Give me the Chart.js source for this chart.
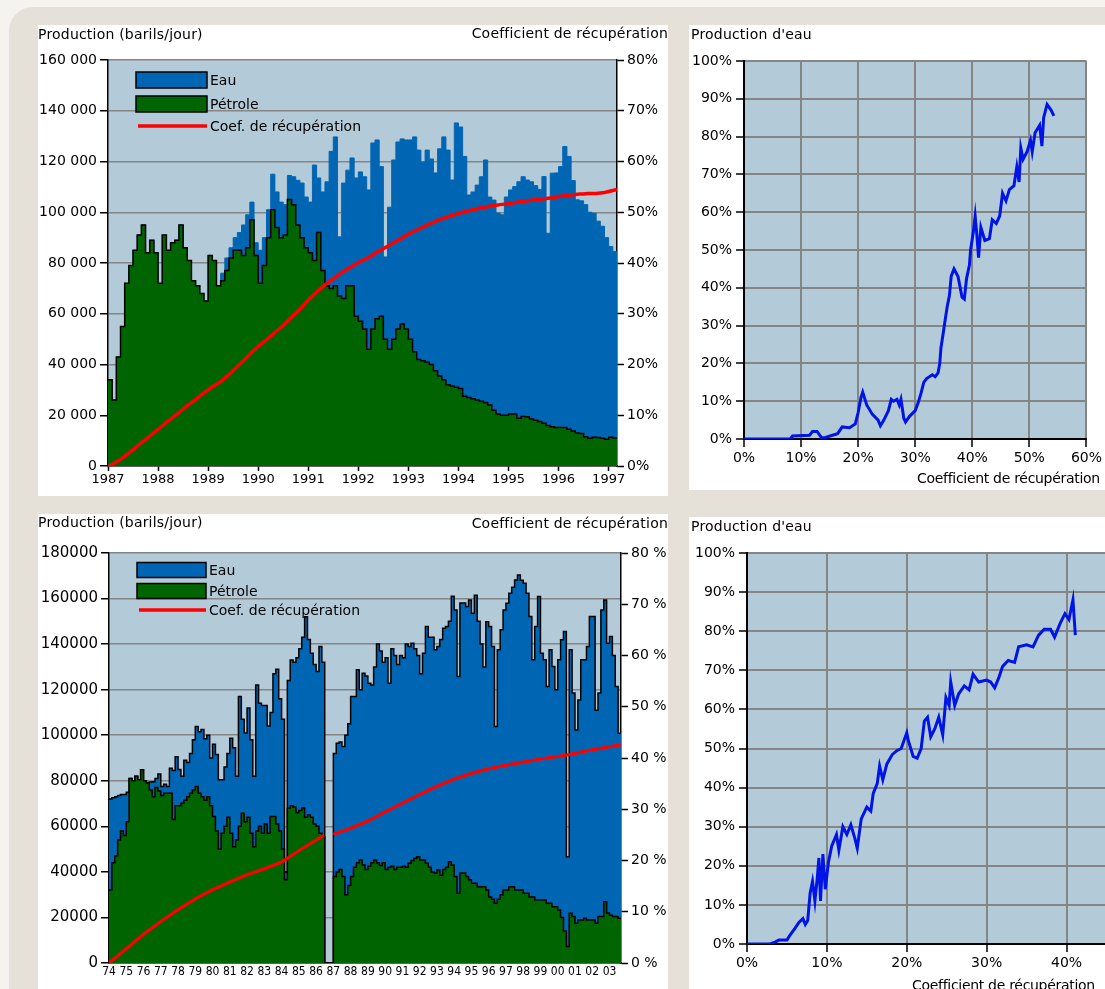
<!DOCTYPE html>
<html lang="fr">
<head>
<meta charset="utf-8">
<title>Production et coefficient de récupération</title>
<script src="https://cdn.jsdelivr.net/npm/chart.js@4.4.1/dist/chart.umd.min.js"></script>
<style>
  html, body { margin: 0; padding: 0; }
  body { position: relative; width: 1105px; height: 989px; overflow: hidden; background: #f5f3ef;
         font-family: 'DejaVu Sans', sans-serif; color: #000; }
  .frame { position: absolute; left: 9px; top: 7px; right: 0; bottom: 0; background: #e5e1d9; border-top-left-radius: 24px; }
  .panel { position: absolute; background: #fff; }
  canvas { position: absolute; }
  .t { position: absolute; font-size: 14px; line-height: 16px; white-space: nowrap; letter-spacing: 0.2px; }
</style>
</head>
<body>
<div class="frame"></div>
<div class="panel" style="left:38px;top:25px;width:630px;height:471px"></div>
<div class="panel" style="left:689px;top:25px;width:416px;height:465px"></div>
<div class="panel" style="left:38px;top:514px;width:630px;height:475px"></div>
<div class="panel" style="left:689px;top:517px;width:416px;height:472px"></div>

<canvas id="prodA" width="630" height="471" style="left:38px;top:25px"></canvas>
<canvas id="cutA" width="416" height="465" style="left:689px;top:25px"></canvas>
<canvas id="prodB" width="630" height="475" style="left:38px;top:514px"></canvas>
<canvas id="cutB" width="476" height="472" style="left:689px;top:517px"></canvas>

<div class="t" style="left:38px;top:26px">Production (barils/jour)</div>
<div class="t" style="left:368px;top:25px;width:300px;text-align:right">Coefficient de récupération</div>
<div class="t" style="left:691px;top:26px">Production d'eau</div>
<div class="t" style="left:917px;top:470px;letter-spacing:-0.3px">Coefficient de récupération</div>

<div class="t" style="left:38px;top:514px">Production (barils/jour)</div>
<div class="t" style="left:368px;top:515px;width:300px;text-align:right">Coefficient de récupération</div>
<div class="t" style="left:691px;top:518px">Production d'eau</div>
<div class="t" style="left:912px;top:977px;letter-spacing:-0.3px">Coefficient de récupération</div>

<script>
// ---------- Field A: monthly production 1987 - early 1997 ----------
const topStartYear = 1987;
const topPerYear = 12;
const topYearTicks = [1987, 1988, 1989, 1990, 1991, 1992, 1993, 1994, 1995, 1996, 1997];
const topProdTicks = [0, 20000, 40000, 60000, 80000, 100000, 120000, 140000, 160000];
const topRecTicks = [0, 10, 20, 30, 40, 50, 60, 70, 80];

// oil rate (bbl/d)
const topOil = [
  34000, 26000, 43000, 55000, 72000, 79000, 85000, 91000, 95000, 84000, 89000, 84000,
  72000, 91000, 85000, 88000, 89000, 95000, 86000, 81000, 73000, 71000, 68000, 65000,
  83000, 81000, 71000, 73000, 77000, 82000, 85000, 85000, 83000, 86000, 97000, 83000,
  72000, 79000, 90000, 101000, 94000, 90000, 91000, 105000, 103000, 95000, 90000, 86000,
  84000, 81000, 92000, 77000, 71000, 70000, 71000, 67000, 66000, 71000, 71000, 59000,
  57000, 54000, 46000, 54000, 58000, 59000, 50000, 46000, 50000, 54000, 56000, 54000,
  50000, 45000, 42000, 41500, 41000, 40000, 37500, 35500, 34000, 32000, 31500, 31000,
  30500, 27500, 27000, 26500, 26000, 25500, 25000, 24000, 22000, 20500, 20000, 20000,
  20500, 20500, 18800, 19500, 19400, 18500, 18000, 17500, 16800, 16000, 15500, 15200,
  15200, 15200, 14500, 13800, 13000, 12800, 11500, 10900, 11300, 11200, 10900, 10500,
  11300, 11000, 10900
];
// total liquid rate (oil + water, bbl/d)
const topLiquid = [
  34000, 26000, 43000, 55000, 72000, 79000, 85000, 91000, 95000, 84000, 89000, 84000,
  72000, 91000, 85000, 88000, 89000, 95000, 86000, 81000, 73000, 71000, 68000, 65000,
  83000, 81000, 71000, 76000, 82000, 86000, 90000, 92000, 95000, 99000, 104000, 88000,
  85000, 90000, 101000, 115000, 108000, 104000, 103000, 114500, 114000, 112600, 111500, 106000,
  104000, 118600, 113500, 108000, 112000, 124000, 129700, 90300, 111500, 116600, 121400, 113500,
  115900, 114000, 108800, 127300, 128500, 118000, 82400, 102000, 120600, 127700, 128900, 128500,
  128500, 129700, 124500, 119800, 124500, 121000, 115500, 125000, 129700, 124500, 112700, 135200,
  133600, 122000, 106800, 108000, 110700, 114000, 120600, 106000, 104800, 99700, 99000, 106000,
  108800, 110100, 112000, 114000, 112700, 112000, 110500, 109000, 114100, 91700, 115400, 115500,
  118000, 125900, 122000, 112500, 104900, 104500, 103000, 100000, 99600, 96500, 94500, 90000,
  86500, 84500, 83000
];
// recovery factor (%)
const topRecovery = [
  0.0, 0.3, 0.8, 1.3, 1.9, 2.6, 3.2, 3.9, 4.6, 5.2, 5.9, 6.6,
  7.2, 7.9, 8.6, 9.2, 9.9, 10.5, 11.2, 11.9, 12.5, 13.1, 13.8, 14.4,
  15.0, 15.6, 16.1, 16.6, 17.3, 18.0, 18.8, 19.6, 20.4, 21.2, 22.0, 22.8,
  23.6, 24.2, 24.9, 25.6, 26.3, 27.0, 27.7, 28.5, 29.3, 30.1, 30.9, 31.8,
  32.7, 33.5, 34.3, 35.0, 35.7, 36.3, 36.9, 37.5, 38.1, 38.6, 39.1, 39.6,
  40.1, 40.5, 40.9, 41.4, 41.9, 42.4, 42.8, 43.3, 43.8, 44.3, 44.7, 45.2,
  45.7, 46.1, 46.5, 46.9, 47.3, 47.7, 48.0, 48.4, 48.7, 49.0, 49.3, 49.5,
  49.8, 50.0, 50.2, 50.4, 50.6, 50.8, 51.0, 51.1, 51.3, 51.4, 51.5, 51.6,
  51.7, 51.8, 52.0, 52.1, 52.2, 52.3, 52.4, 52.5, 52.6, 52.7, 52.8, 52.9,
  53.1, 53.2, 53.3, 53.4, 53.5, 53.6, 53.6, 53.7, 53.7, 53.7, 53.8, 53.9,
  54.1, 54.3, 54.5
];

// ---------- Field B: bimonthly production 1974 - 2003 ----------
const botStartYear = 1974;
const botPerYear = 6;
const botYearTicks = [1974, 1975, 1976, 1977, 1978, 1979, 1980, 1981, 1982, 1983, 1984, 1985, 1986, 1987, 1988,
                      1989, 1990, 1991, 1992, 1993, 1994, 1995, 1996, 1997, 1998, 1999, 2000, 2001, 2002, 2003];
const botProdTicks = [0, 20000, 40000, 60000, 80000, 100000, 120000, 140000, 160000, 180000];
const botRecTicks = [0, 10, 20, 30, 40, 50, 60, 70, 80];

const botOil = [
  32000, 44000, 47000, 54000, 58000, 56000,
  62000, 81000, 80000, 82000, 80500, 84800,
  80000, 79000, 76000, 73000, 77000, 75500,
  73500, 74500, 74500, 74500, 63000, 69000,
  69000, 70100, 71500, 73000, 74500, 76000,
  77500, 74500, 73000, 71500, 73000, 69000,
  64300, 58000, 50000, 57000, 60000, 64000,
  57000, 51000, 54000, 60000, 65700, 62000,
  64000, 57000, 51000, 58000, 60000, 57000,
  61000, 57000, 64300, 64300, 61000, 58000,
  50000, 36500, 68000, 69000, 68500, 66000,
  67000, 68000, 64000, 65000, 64000, 61000,
  60000, 57000, 55500, 0, 0, 0,
  38000, 40000, 41000, 38000, 30000, 34000,
  38000, 42000, 44000, 45200, 43000, 41000,
  42500, 44000, 45200, 44000, 42800, 44000,
  41000, 42000, 42500, 41000, 42000, 42000,
  42500, 42000, 43800, 45000, 46000, 46700,
  45200, 45200, 43800, 42000, 40000, 39500,
  40800, 38500, 41000, 42000, 44500, 43000,
  38000, 30600, 39500, 39500, 38000, 36500,
  35000, 35000, 33500, 33500, 33500, 32000,
  29000, 28000, 26200, 28000, 30000, 32000,
  32000, 33500, 33500, 32000, 32000, 32000,
  30600, 30600, 29000, 29000, 27700, 27700,
  27700, 27700, 26200, 26200, 24700, 24700,
  23300, 20000, 14000, 7200, 21800, 20400,
  17500, 18900, 18900, 19600, 18900, 18900,
  18900, 17500, 20400, 20400, 26900, 22000,
  21000, 20400, 20400, 19600, 19600
];
const botLiquid = [
  72000, 72500, 73000, 73500, 74000, 74000,
  75000, 81000, 80000, 82000, 80500, 84800,
  80000, 79000, 79500, 79600, 81000, 83000,
  77500, 78500, 77500, 85500, 84500, 90600,
  85000, 82000, 89000, 88000, 92000, 98000,
  103800, 101500, 102500, 98500, 100000, 90000,
  96000, 91500, 80400, 80400, 86000, 92000,
  98700, 94500, 82000, 117000, 107000, 101000,
  112000, 98000, 82000, 122000, 114000, 113000,
  113000, 104000, 110000, 127000, 129000, 116000,
  107000, 40000, 124000, 133000, 132000, 134000,
  138000, 143000, 152000, 142000, 136000, 131000,
  128000, 139000, 132000, 0, 0, 0,
  92000, 96500, 97000, 95000, 100000, 105000,
  117000, 117000, 128700, 120000, 127200, 126000,
  122800, 122000, 130000, 140000, 137000, 132000,
  134000, 122800, 138000, 135000, 131000, 135000,
  134000, 140000, 139000, 140400, 138000, 135000,
  127000, 136000, 147700, 143000, 143000, 137500,
  139000, 142000, 147000, 147700, 150000, 161000,
  155000, 125800, 158000, 158000, 156500, 159400,
  153500, 161500, 150000, 140000, 130000, 149800,
  147700, 138900, 103800, 137500, 146300, 155000,
  157900, 162300, 165000, 168200, 170300, 168000,
  166700, 162300, 152100, 133100, 147700, 160900,
  136000, 133100, 121400, 137500, 130200, 120000,
  133100, 141900, 145500, 46700, 137500, 118500,
  102300, 115500, 133100, 133100, 138900, 152100,
  152100, 111000, 118500, 155000, 159400, 140400,
  143300, 135000, 121400, 100900, 110000
];
// recovery factor (%), with the 1986 shut-in left blank
const botRecovYears = [1974, 1975, 1976, 1977, 1978, 1979, 1980, 1981, 1982, 1983, 1984, 1985, 1986, 1986.45, 1986.7,
                       1987, 1988, 1989, 1990, 1991, 1992, 1993, 1994, 1995, 1996, 1997, 1998, 1999, 2000, 2001,
                       2002, 2003, 2003.667];
const botRecovery = [0, 2.8, 5.6, 8.1, 10.4, 12.5, 14.3, 15.8, 17.2, 18.4, 19.7, 21.9, 24.0, 24.9, null,
                     25.1, 26.3, 27.7, 29.5, 31.2, 32.9, 34.5, 35.9, 37.0, 37.9, 38.6, 39.2, 39.8, 40.3, 40.9,
                     41.6, 42.2, 42.6];

// ---------- Water cut vs recovery factor ----------
const pctTicks = [0, 10, 20, 30, 40, 50, 60, 70, 80, 90, 100];
const cutTopXTicks = [0, 10, 20, 30, 40, 50, 60];
const cutBotXTicks = [0, 10, 20, 30, 40, 50];

const cutTopRecovery = [
  0, 8.1, 8.5, 11.5, 12, 12.8, 13.6, 14, 15.5, 16.4,
  17.2, 18.5, 19.5, 20, 20.5, 20.8, 21.5, 22.5, 23.5, 23.9,
  24.5, 25.3, 25.8, 26.2, 26.8, 27.2, 27.5, 28, 28.3, 29,
  30, 30.5, 31, 31.5, 32, 33, 33.5, 34, 34.3, 34.5,
  34.9, 35.3, 35.6, 36, 36.3, 36.8, 37.5, 38.2, 38.6, 39,
  39.5, 39.7, 40.2, 40.5, 40.8, 41.1, 41.5, 42.2, 43, 43.5,
  44.2, 44.8, 45.3, 45.9, 46.5, 47.3, 47.8, 48.2, 48.5, 48.9,
  49.6, 50.2, 50.5, 51, 51.8, 52.2, 52.5, 53.1, 53.8, 54.3
];
const cutTopWater = [
  0, 0, 0.8, 1, 2, 2, 0.3, 0.3, 1, 1.4,
  3.2, 3, 4, 7, 11, 12.4, 9, 6.5, 5, 3.5,
  5, 7.5, 10.5, 10, 10.5, 9, 10.5, 5.5, 4.5, 6,
  7.5, 9.5, 12, 15, 16, 17, 16.5, 17.5, 20, 24,
  28, 32, 35, 38, 43, 45, 43, 37.5, 37, 42.5,
  46, 50, 55, 59, 54, 48, 56, 52.5, 53, 58,
  57, 59, 65, 63, 66, 67, 72, 68, 77, 74,
  76, 79, 76, 81, 83, 77.5, 85, 88.5, 87, 85.5
];
const cutBotRecovery = [
  0, 2.9, 3.0, 3.5, 4, 5, 5.3, 6, 6.5, 7,
  7.3, 7.6, 7.9, 8.2, 8.5, 8.8, 9.0, 9.2, 9.5, 9.8,
  10.2, 10.6, 11.2, 11.5, 12, 12.5, 13, 13.5, 13.8, 14.3,
  15, 15.5, 15.8, 16.3, 16.6, 17, 17.5, 18.2, 18.8, 19.3,
  20, 20.2, 20.8, 21.3, 21.8, 22.2, 22.6, 23, 23.5, 24,
  24.5, 24.9, 25.3, 25.5, 26, 26.5, 27.2, 27.8, 28.3, 29,
  30, 30.5, 31, 31.5, 32, 32.7, 33.5, 34, 35, 35.8,
  36.5, 37.2, 38, 38.5, 39.2, 39.8, 40.3, 40.8, 41.1
];
const cutBotWater = [
  0, 0, 0, 0.5, 1, 1, 2, 4, 5.5, 6.5,
  5, 6, 13, 16, 11, 17, 22, 11, 23, 14,
  21, 25, 28, 24, 30, 28, 30.5, 27, 24.5, 32,
  35, 34, 38.5, 41, 45.5, 42, 46, 48.5, 49.5, 50,
  54, 52, 48, 47.5, 50, 57, 58, 53, 55, 58,
  53.5, 63, 61, 67, 61, 64, 66, 65, 69, 67,
  67.5, 67, 65.5, 68, 71, 72.5, 72, 76, 76.5, 76,
  79, 80.5, 80.5, 78.5, 82, 84.5, 83, 88, 79
];

// ---------- styling ----------
const GREEN = '#006400', BLUE = '#0066b4', RED = '#ff0000', SKY = '#b3cbd8';
const GRID = '#858585', LINE_BLUE = '#0014e6';
const FAMILY = "'DejaVu Sans', sans-serif";
const NARROW = "'DejaVu Sans Condensed', 'Liberation Sans Narrow', 'DejaVu Sans', sans-serif";

Chart.defaults.font.family = FAMILY;
Chart.defaults.font.size = 14;
Chart.defaults.color = '#000';
Chart.defaults.animation = false;

const timeSeries = (start, perYear, values) => values.map((y, i) => ({ x: start + i / perYear, y }));
const pairs = (xs, ys) => ys.map((y, i) => ({ x: xs[i], y }));
const setTicks = list => scale => { scale.ticks = list.map(v => ({ value: v })); };
const setSize = px => scale => { if (scale.isHorizontal()) scale.height = px; else scale.width = px; };

// light blue plot background
const plotBg = {
  id: 'plotBg',
  beforeDraw(chart) {
    const { ctx, chartArea: a } = chart;
    ctx.save();
    ctx.fillStyle = SKY;
    ctx.fillRect(a.left, a.top, a.right - a.left, a.bottom - a.top);
    ctx.restore();
  }
};

// legend drawn inside the plot area, top-left corner
const boxLegend = {
  id: 'boxLegend',
  afterDatasetsDraw(chart, args, o) {
    const { ctx, chartArea: a } = chart;
    ctx.save();
    ctx.font = '14px ' + FAMILY;
    ctx.textBaseline = 'middle';
    o.order.forEach((di, k) => {
      const ds = chart.data.datasets[di];
      const x = a.left + o.x, cy = a.top + o.rows[k];
      if (ds.fill) {
        ctx.fillStyle = ds.backgroundColor;
        ctx.fillRect(x, cy - o.h / 2, o.w, o.h);
        ctx.strokeStyle = '#000';
        ctx.lineWidth = 1.5;
        ctx.strokeRect(x, cy - o.h / 2, o.w, o.h);
      } else {
        ctx.strokeStyle = ds.borderColor;
        ctx.lineWidth = 3.5;
        ctx.beginPath();
        ctx.moveTo(x + 2, cy);
        ctx.lineTo(x + o.w, cy);
        ctx.stroke();
      }
      ctx.fillStyle = '#000';
      ctx.fillText(ds.label, x + o.w + 3, cy + 1);
    });
    ctx.restore();
  }
};

// The water band is the area between the oil curve and the total-liquid curve:
// total liquid is filled down to zero first, the oil area is painted over it.
function productionChart(id, cfg) {
  return new Chart(document.getElementById(id), {
    type: 'line',
    data: {
      datasets: [
        { label: 'Pétrole', data: cfg.oil, stepped: true, fill: 'origin', backgroundColor: GREEN,
          borderColor: '#000', borderWidth: 1.5, pointRadius: 0, yAxisID: 'y', order: 1 },
        { label: 'Eau', data: cfg.liquid, stepped: true, fill: 'origin', backgroundColor: BLUE,
          borderColor: cfg.liquidEdge, borderWidth: cfg.liquidEdgeWidth, pointRadius: 0, yAxisID: 'y', order: 2 },
        { label: 'Coef. de récupération', data: cfg.recovery, fill: false, borderColor: RED,
          borderWidth: cfg.redWidth, pointRadius: 0, spanGaps: false, yAxisID: 'y1', order: 0 }
      ]
    },
    options: {
      responsive: false, animation: false, events: [],
      layout: { padding: { top: cfg.padTop, left: 0, right: 0, bottom: 0 } },
      plugins: { legend: { display: false }, tooltip: { enabled: false }, boxLegend: cfg.legend },
      scales: {
        x: {
          type: 'linear', min: cfg.xMin, max: cfg.xMax,
          afterBuildTicks: setTicks(cfg.xTicks), afterFit: setSize(cfg.xHeight),
          ticks: { callback: cfg.xLabel, autoSkip: false, maxRotation: 0, minRotation: 0,
                   padding: cfg.xPad, font: cfg.xFont },
          grid: { drawOnChartArea: false, drawTicks: cfg.xTickLen > 0, tickLength: cfg.xTickLen, tickColor: '#000', tickWidth: 1.5 },
          border: { color: '#000', width: 1.5 }
        },
        y: {
          position: 'left', min: 0, max: cfg.prodTicks[cfg.prodTicks.length - 1],
          afterBuildTicks: setTicks(cfg.prodTicks), afterFit: setSize(cfg.yWidth),
          ticks: { callback: cfg.yLabel, padding: 3, font: cfg.yFont },
          grid: { color: GRID, lineWidth: 1.5, tickColor: '#000', tickLength: 8, tickWidth: 1.5 },
          border: { color: '#000', width: 1.5 }
        },
        y1: {
          position: 'right', min: 0, max: 80,
          afterBuildTicks: setTicks(cfg.recTicks), afterFit: setSize(cfg.y1Width),
          ticks: { callback: cfg.y1Label, padding: 3 },
          grid: { drawOnChartArea: false, tickColor: '#000', tickLength: 7, tickWidth: 1.5 },
          border: { color: '#000', width: 1.5 }
        }
      }
    },
    plugins: [plotBg, boxLegend]
  });
}

function waterCutChart(id, cfg) {
  return new Chart(document.getElementById(id), {
    type: 'line',
    data: {
      datasets: [{ label: "Production d'eau", data: cfg.points, fill: false, borderColor: LINE_BLUE,
                   borderWidth: 3, pointRadius: 0, tension: 0 }]
    },
    options: {
      responsive: false, animation: false, events: [],
      layout: { padding: { top: 36, right: 12, left: 0, bottom: 0 } },
      plugins: { legend: { display: false }, tooltip: { enabled: false } },
      scales: {
        x: {
          type: 'linear', min: 0, max: cfg.xTicks[cfg.xTicks.length - 1],
          afterBuildTicks: setTicks(cfg.xTicks), afterFit: setSize(cfg.xHeight),
          ticks: { callback: v => v + '%', autoSkip: false, maxRotation: 0, padding: 3 },
          grid: { color: GRID, lineWidth: 2, tickColor: '#000', tickLength: 8, tickWidth: 1.5 },
          border: { color: '#000', width: 2 }
        },
        y: {
          min: 0, max: 100,
          afterBuildTicks: setTicks(pctTicks), afterFit: setSize(cfg.yWidth),
          ticks: { callback: v => v + '%', padding: 4 },
          grid: { color: GRID, lineWidth: 2, tickColor: '#000', tickLength: 8, tickWidth: 1.5 },
          border: { color: '#000', width: 2 }
        }
      }
    },
    plugins: [plotBg]
  });
}

productionChart('prodA', {
  oil: timeSeries(topStartYear, topPerYear, topOil),
  liquid: timeSeries(topStartYear, topPerYear, topLiquid),
  recovery: timeSeries(topStartYear, topPerYear, topRecovery),
  liquidEdge: BLUE, liquidEdgeWidth: 1, redWidth: 3.5,
  padTop: 35, xHeight: 30, yWidth: 70, y1Width: 51,
  xMin: topStartYear, xMax: topStartYear + (topOil.length - 1) / topPerYear,
  xTicks: topYearTicks, xLabel: v => String(v), xPad: 1, xTickLen: 5, xFont: { size: 13 },
  prodTicks: topProdTicks, yLabel: v => v === 0 ? '0' : (v / 1000) + ' 000', yFont: { size: 14 },
  recTicks: topRecTicks, y1Label: v => v + '%',
  legend: { x: 28, w: 71, h: 16, rows: [20, 44, 66], order: [1, 0, 2] }
});

productionChart('prodB', {
  oil: timeSeries(botStartYear, botPerYear, botOil),
  liquid: timeSeries(botStartYear, botPerYear, botLiquid),
  recovery: pairs(botRecovYears, botRecovery),
  liquidEdge: '#000', liquidEdgeWidth: 1.5, redWidth: 3.2,
  padTop: 39, xHeight: 26, yWidth: 71, y1Width: 47,
  xMin: botStartYear, xMax: botStartYear + (botOil.length - 1) / botPerYear,
  xTicks: botYearTicks, xLabel: v => String(v).slice(2), xPad: 2, xTickLen: 0,
  xFont: { size: 12, family: NARROW },
  prodTicks: botProdTicks, yLabel: v => String(v), yFont: { size: 15 },
  recTicks: botRecTicks, y1Label: v => v + ' %',
  legend: { x: 28, w: 69, h: 15, rows: [17, 38, 57], order: [1, 0, 2] }
});

waterCutChart('cutA', {
  points: pairs(cutTopRecovery, cutTopWater),
  xTicks: cutTopXTicks, xHeight: 51, yWidth: 55
});

waterCutChart('cutB', {
  points: pairs(cutBotRecovery, cutBotWater),
  xTicks: cutBotXTicks, xHeight: 45, yWidth: 58
});
</script>
</body>
</html>
